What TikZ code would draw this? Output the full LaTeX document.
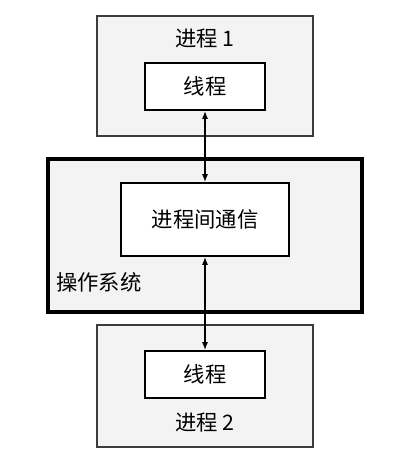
\documentclass[tikz,border=0pt]{standalone}
\usepackage{fontspec}
\setmainfont{Noto Sans CJK SC}
\usepackage{tikz}
\usetikzlibrary{arrows.meta}
\definecolor{boxgray}{RGB}{243,243,243}
\definecolor{edgegray}{RGB}{60,60,60}

\begin{document}
\begin{tikzpicture}[x=0.75pt,y=-0.75pt,>={Latex[length=6pt,width=4.5pt]},
  font=\fontsize{16}{19}\selectfont,
  procbox/.style={draw=edgegray,line width=1.5pt,fill=boxgray,minimum width=162pt,minimum height=90pt,inner sep=0pt},
  innerbox/.style={draw=black,line width=1.2pt,fill=white,inner sep=0pt}]
  \useasboundingbox (0,0) rectangle (400,467);
  % process 1
  \node[procbox] (proc1) at (205,76) {};
  \node (lblProc1) at (205,39) {进程 1};
  \node[innerbox,minimum width=90pt,minimum height=35.25pt] (thread1) at (205,86.5) {线程};
  % operating system
  \node[procbox,draw=black,line width=3pt,minimum width=235.5pt,minimum height=114.75pt] (os) at (205,235.5) {};
  \node[innerbox,minimum width=126pt,minimum height=54.75pt] (ipc) at (205,219.5) {进程间通信};
  \node[anchor=west,inner sep=0pt] (lblOs) at (56,282) {操作系统};
  % process 2
  \node[procbox,minimum height=91.5pt] (proc2) at (205,386) {};
  \node[innerbox,minimum width=90pt,minimum height=35.25pt] (thread2) at (205,374.5) {线程};
  \node (lblProc2) at (205,423) {进程 2};
  % links
  \draw[<->,line width=1.1pt] (thread1.south) -- (ipc.north);
  \draw[<->,line width=1.1pt] (ipc.south) -- (thread2.north);
\end{tikzpicture}
\end{document}
